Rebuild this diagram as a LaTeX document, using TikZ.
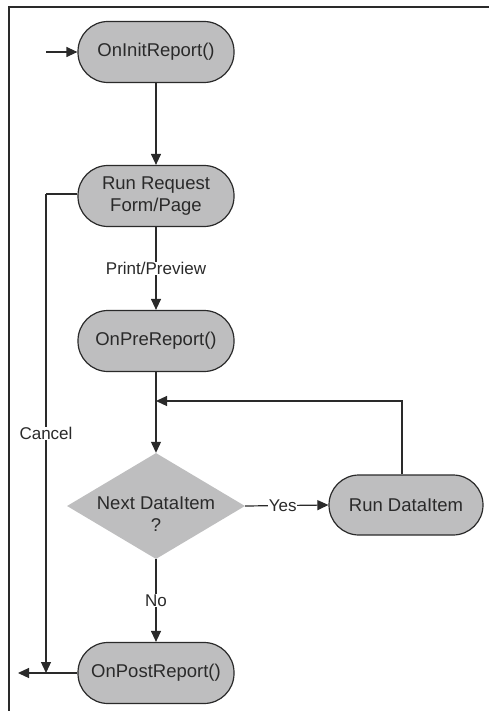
\documentclass[tikz,border=0pt]{standalone}
\usepackage{fontspec}
\setmainfont{Liberation Sans}
\usetikzlibrary{arrows.meta,shapes.geometric}
\definecolor{boxgray}{HTML}{BEBEBF}
\definecolor{ink}{HTML}{2A2A2A}
\tikzset{
  proc/.style={draw=ink, line width=1.2pt, fill=boxgray, rounded corners=30pt,
    minimum width=156pt, minimum height=61pt, inner sep=0pt, align=center,
    text=ink, font=\fontsize{18.5}{22}\selectfont},
  decision/.style={draw=none, fill=boxgray, shape=diamond, inner sep=0pt,
    minimum width=178pt, minimum height=106pt},
  txt/.style={text=ink, align=center, font=\fontsize{18.5}{22}\selectfont, inner sep=0pt},
  lbl/.style={text=ink, fill=white, inner sep=0.5pt, font=\fontsize{17}{20}\selectfont},
  conn/.style={draw=ink, line width=1.2pt},
  arr/.style={conn, -{Triangle[length=11pt,width=10pt]}},
}
\begin{document}
\begin{tikzpicture}[x=1pt,y=-1pt]
\useasboundingbox (0,0) rectangle (489,711);
% frame
\draw[draw=ink, line width=1.4pt] (9,711) -- (9,7) -- (489,7);
% nodes
\node[proc] (oir) at (156,52) {OnInitReport()};
\node[proc] (rr) at (156,196) {Run Request\\Form/Page};
\node[proc] (opre) at (156,341) {OnPreReport()};
\node[decision] (dec) at (156,506) {};
\node[txt] (dectxt) at (156,514) {Next DataItem\\?};
\node[proc, minimum width=154pt, minimum height=60pt] (rdi) at (406,505) {Run DataItem};
\node[proc] (opost) at (156,673) {OnPostReport()};
% coordinates
\coordinate (start) at (46,52);
\coordinate (loopjoin) at (156,401);
\coordinate (cancelcorner) at (46,194);
\coordinate (cancelend) at (46,673);
\coordinate (exit) at (18,673);
% connectors
\draw[arr] (start) -- (oir.west);
\draw[arr] (oir.south) -- (rr.north);
\draw[arr] (rr.south) -- node[lbl, pos=0.5] {Print/Preview} (opre.north);
\draw[arr] (opre.south) -- (dec.north);
\draw[arr] (dec.east) -- node[lbl, pos=0.45] {Yes} (rdi.west);
\draw[arr] ([xshift=-4pt]rdi.north) |- (loopjoin);
\draw[arr] (dec.south) -- node[lbl, pos=0.5] {No} (opost.north);
\draw[conn] (rr.west |- cancelcorner) -- (cancelcorner);
\draw[arr] (cancelcorner) -- node[lbl, pos=0.5] {Cancel} (cancelend);
\draw[arr] (opost.west) -- (exit);
\end{tikzpicture}
\end{document}
